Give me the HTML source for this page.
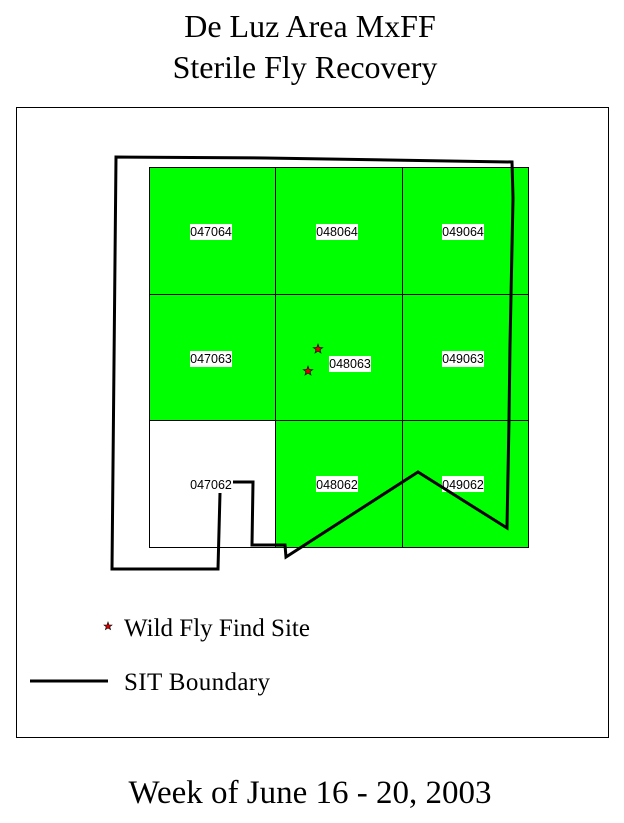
<!DOCTYPE html>
<html><head><meta charset="utf-8"><style>
html,body{margin:0;padding:0;background:#fff;width:624px;height:823px;overflow:hidden}
</style></head><body>
<svg width="624" height="823" viewBox="0 0 624 823" xmlns="http://www.w3.org/2000/svg">
<text x="310" y="37" font-family="Liberation Serif" font-size="32" text-anchor="middle">De Luz Area MxFF</text>
<text x="305" y="78" font-family="Liberation Serif" font-size="32" text-anchor="middle">Sterile Fly Recovery</text>
<rect x="16.5" y="107.5" width="592" height="630" fill="none" stroke="#000" stroke-width="1"/>
<g stroke="#000" stroke-width="1">
<rect x="149.5" y="167.5" width="379" height="380" fill="#00ff00"/>
<rect x="149.5" y="420.5" width="126" height="127" fill="#fff"/>
<line x1="275.5" y1="167" x2="275.5" y2="547"/>
<line x1="402.5" y1="167" x2="402.5" y2="547"/>
<line x1="149" y1="294.5" x2="528" y2="294.5"/>
<line x1="149" y1="420.5" x2="528" y2="420.5"/>
</g>
<g font-family="Liberation Sans" font-size="12.5" text-anchor="middle">
<rect x="190" y="224" width="42" height="16" fill="#fff"/><text x="211" y="236">047064</text>
<rect x="316" y="224" width="42" height="16" fill="#fff"/><text x="337" y="236">048064</text>
<rect x="442" y="224" width="42" height="16" fill="#fff"/><text x="463" y="236">049064</text>
<rect x="190" y="351" width="42" height="16" fill="#fff"/><text x="211" y="363">047063</text>
<rect x="329" y="356" width="42" height="16" fill="#fff"/><text x="350" y="368">048063</text>
<rect x="442" y="351" width="42" height="16" fill="#fff"/><text x="463" y="363">049063</text>
<text x="211" y="489">047062</text>
<rect x="316" y="476" width="42" height="16" fill="#fff"/><text x="337" y="489">048062</text>
<rect x="442" y="476" width="42" height="16" fill="#fff"/><text x="463" y="489">049062</text>
</g>
<g fill="none" stroke="#000" stroke-width="3" stroke-linejoin="miter">
<polyline points="233,482 253,482 252,545 285,545 286,557 418,472 507,528 509,420 510,345 513,198 512,162 265,158 116,157 112,569 218,569 220,493"/>
</g>
<g fill="#d00" stroke="#000" stroke-width="0.6">
<polygon points="318,344 319.2,347.4 322.8,347.5 320,349.6 321,353 318,351 315,353 316,349.6 313.2,347.5 316.8,347.4"/>
<polygon points="308,366 309.2,369.4 312.8,369.5 310,371.6 311,375 308,373 305,375 306,371.6 303.2,369.5 306.8,369.4"/>
<polygon points="108,622 109,625 112,625 109.8,626.8 110.6,629.6 108,628 105.4,629.6 106.2,626.8 104,625 107,625"/>
</g>
<text x="124" y="636" font-family="Liberation Serif" font-size="25" textLength="186">Wild Fly Find Site</text>
<line x1="30" y1="681" x2="108" y2="681" stroke="#000" stroke-width="3"/>
<text x="124" y="690" font-family="Liberation Serif" font-size="25" textLength="146">SIT Boundary</text>
<text x="310" y="803" font-family="Liberation Serif" font-size="33" text-anchor="middle">Week of June 16 - 20, 2003</text>
</svg>
</body></html>
